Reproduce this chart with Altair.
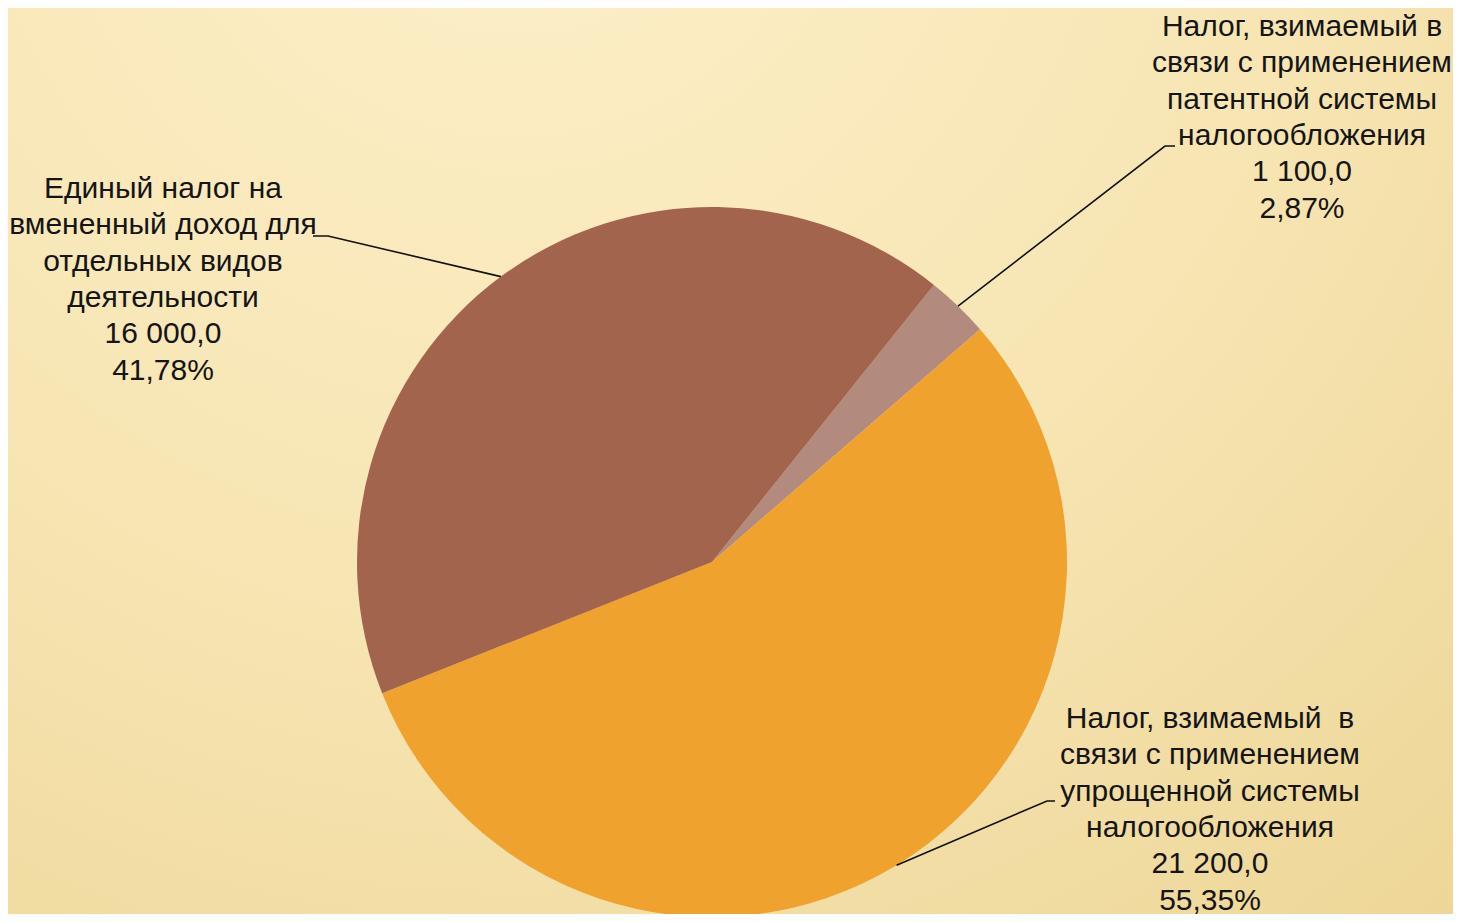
import math
import altair as alt
import pandas as pd

# ---- data ----
categories = [
    "Налог, взимаемый в связи с применением патентной системы налогообложения",
    "Налог, взимаемый в связи с применением упрощенной системы налогообложения",
    "Единый налог на вмененный доход для отдельных видов деятельности",
]
values = [1100.0, 21200.0, 16000.0]
value_labels = ["1 100,0", "21 200,0", "16 000,0"]
percent_labels = ["2,87%", "55,35%", "41,78%"]
name_lines = [
    ["Налог, взимаемый в", "связи с применением", "патентной системы", "налогообложения"],
    ["Налог, взимаемый\u00a0 в", "связи с применением", "упрощенной системы", "налогообложения"],
    ["Единый налог на", "вмененный доход для", "отдельных видов", "деятельности"],
]
colors = ["#B38A7E", "#F0A22F", "#A3644E"]

# ---- layout ----
W, H = 1445, 906
CX, CY, R = 704, 554, 355
START = math.radians(38.7)
label_first_line = [(1294, 19), (1202, 711), (155, 181)]
elbows = [(1157, 138), (1039, 793), (320, 228)]
ends = [(1167, 138), (1047, 793), (305, 228)]

total = sum(values)
pie_df = pd.DataFrame({"cat": categories, "value": values, "idx": list(range(len(values)))})

# leader lines from slice edge (mid-angle) to label
rows = []
cum = 0.0
for i, v in enumerate(values):
    mid = START + 2 * math.pi * (cum + v / 2) / total
    cum += v
    ex, ey = CX + R * math.sin(mid), CY - R * math.cos(mid)
    pts = [(ex, ey), elbows[i], ends[i]]
    for o, (px, py) in enumerate(pts):
        rows.append({"slice": i, "o": o, "x": px, "y": py})
lines_df = pd.DataFrame(rows)

text_df = pd.DataFrame({
    "label": ["\n".join(name_lines[i] + [value_labels[i], percent_labels[i]]) for i in range(3)],
    "x": [c[0] for c in label_first_line],
    "y": [c[1] for c in label_first_line],
})

bg = alt.Chart(pd.DataFrame({"a": [0]})).mark_rect(
    fill={
        "gradient": "radial",
        "x1": 0.35, "y1": 0.05, "r1": 0.0,
        "x2": 0.35, "y2": 0.05, "r2": 1.1,
        "stops": [
            {"offset": 0.0, "color": "#FDF0CA"},
            {"offset": 0.5, "color": "#F7E5B3"},
            {"offset": 1.0, "color": "#EBD391"},
        ],
    }
).encode(x=alt.value(0), x2=alt.value(W), y=alt.value(0), y2=alt.value(H))

pie = alt.Chart(pie_df).mark_arc(outerRadius=R).encode(
    theta=alt.Theta("value:Q", stack=True,
                    scale=alt.Scale(range=[START, START + 2 * math.pi])),
    color=alt.Color("cat:N", scale=alt.Scale(domain=categories, range=colors), legend=None),
    order=alt.Order("idx:Q"),
    x=alt.value(CX),
    y=alt.value(CY),
)

leaders = alt.Chart(lines_df).mark_line(color="#111111", strokeWidth=1.6).encode(
    x=alt.X("x:Q", scale=None, axis=None),
    y=alt.Y("y:Q", scale=None, axis=None),
    detail="slice:N",
    order="o:Q",
)

labels = alt.Chart(text_df).mark_text(
    font="Liberation Sans", fontSize=30, lineHeight=36.3, lineBreak="\n",
    align="center", baseline="middle", color="#151515",
).encode(
    x=alt.X("x:Q", scale=None, axis=None),
    y=alt.Y("y:Q", scale=None, axis=None),
    text="label:N",
)

chart = alt.layer(bg, pie, leaders, labels).properties(
    width=W, height=H, autosize="none", padding=0
).configure_view(stroke=None)

chart.save("out.html", embed_options={"renderer": "svg", "actions": False})
